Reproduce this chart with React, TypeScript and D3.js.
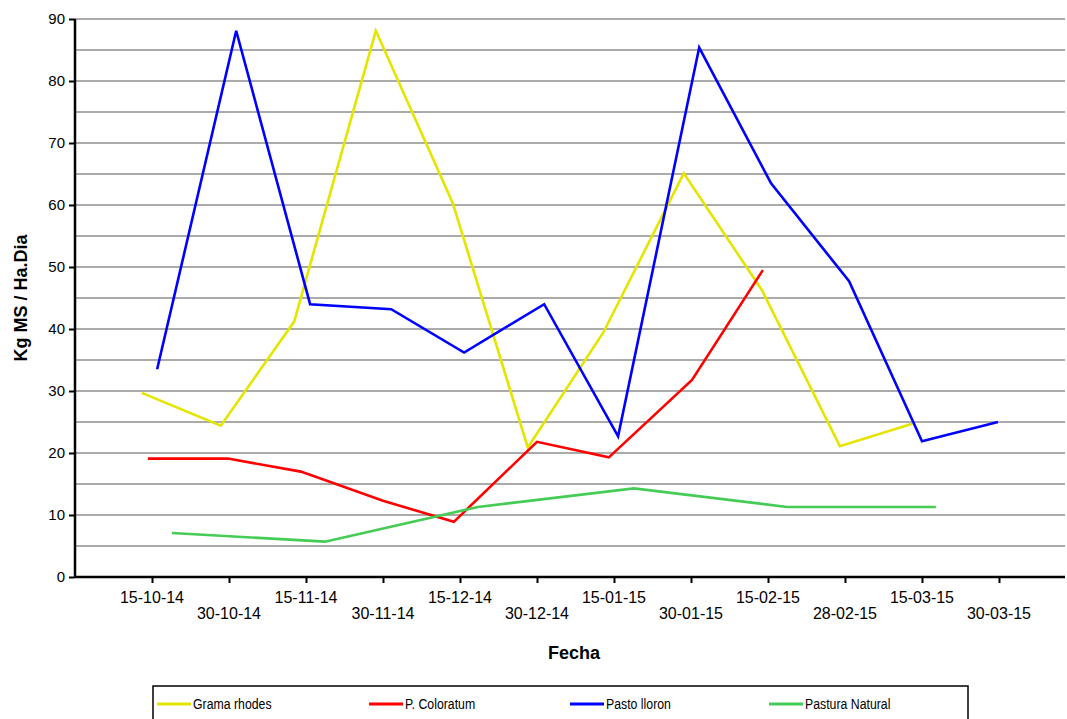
import React, { useRef, useEffect } from 'react';
import * as d3 from 'd3';

// x = days counted from 30-09-14 (axis origin), one tick every 15 days
const xTickLabels = [
  '15-10-14', '30-10-14', '15-11-14', '30-11-14', '15-12-14', '30-12-14',
  '15-01-15', '30-01-15', '15-02-15', '28-02-15', '15-03-15', '30-03-15',
];
const yTicks = [0, 10, 20, 30, 40, 50, 60, 70, 80, 90];

const gramaX = [13, 28.4, 42.7, 58.6, 73.6, 88.2, 102.9, 118.6, 133.8, 149, 163.1];
const gramaY = [29.7, 24.4, 41.2, 88.1, 60.3, 20.9, 39.4, 65.1, 46.3, 21.1, 24.7];

const coloratumX = [14.2, 29.8, 44, 60, 73.8, 90, 104, 120.2, 134];
const coloratumY = [19.1, 19.1, 17.0, 12.3, 8.9, 21.8, 19.3, 31.8, 49.5];

const lloronX = [16, 31.4, 45.8, 61.6, 75.8, 91.4, 105.8, 121.6, 135.6, 150.8, 165, 179.8];
const lloronY = [33.5, 88.1, 44.0, 43.2, 36.2, 44.0, 22.7, 85.4, 63.5, 47.7, 21.9, 25.0];

const naturalX = [18.9, 48.7, 78.5, 108.9, 138.7, 167.7];
const naturalY = [7.1, 5.7, 11.3, 14.3, 11.3, 11.3];

const seriesNames = ['Grama rhodes', 'P. Coloratum', 'Pasto lloron', 'Pastura Natural'];
const seriesColors = ['#e5e500', '#ff0000', '#0000ff', '#44cc55'];

export default function App() {
  const ref = useRef<SVGSVGElement>(null);

  useEffect(() => {
    const svg = d3.select(ref.current);
    svg.selectAll('*').remove();

    const width = 1067;
    const height = 719;
    svg.attr('width', width).attr('height', height);

    const x = d3.scaleLinear().domain([0, 192.86]).range([75, 1065]);
    const y = d3.scaleLinear().domain([0, 90]).range([577, 19]);
    const font = 'Liberation Sans, Arial, sans-serif';

    // grid lines every 5
    svg.append('g')
      .selectAll('line')
      .data(d3.range(5, 95, 5))
      .join('line')
        .attr('x1', x(0))
        .attr('x2', x.range()[1])
        .attr('y1', d => y(d))
        .attr('y2', d => y(d))
        .attr('stroke', '#8f8f8f')
        .attr('stroke-width', 1.5);

    // y axis
    const yAxis = svg.append('g').attr('transform', `translate(${x(0)},0)`)
      .call(d3.axisLeft(y).tickValues(yTicks).tickSize(6).tickPadding(4));
    yAxis.select('.domain').attr('stroke', '#000').attr('stroke-width', 2.5)
      .attr('d', `M0,${y(90)}V${y(0)}`);
    yAxis.selectAll('.tick line').attr('stroke', '#000').attr('stroke-width', 2);
    yAxis.selectAll('.tick text')
      .attr('font-family', font).attr('font-size', 15).attr('fill', '#000');

    // x axis
    const tickVals = xTickLabels.map((_, i) => 15 * (i + 1));
    const xAxis = svg.append('g').attr('transform', `translate(0,${y(0)})`)
      .call(d3.axisBottom(x).tickValues(tickVals).tickSize(6).tickFormat(() => ''));
    xAxis.select('.domain').attr('stroke', '#000').attr('stroke-width', 2.5)
      .attr('d', `M${x(0)},0H${x.range()[1]}`);
    xAxis.selectAll('.tick line').attr('stroke', '#000').attr('stroke-width', 2);

    svg.append('g')
      .selectAll('text')
      .data(xTickLabels)
      .join('text')
        .attr('x', (_, i) => x(tickVals[i]))
        .attr('y', (_, i) => (i % 2 === 0 ? 603 : 619))
        .attr('text-anchor', 'middle')
        .attr('font-family', font)
        .attr('font-size', 16)
        .text(d => d);

    // axis titles
    svg.append('text')
      .attr('x', 574).attr('y', 659)
      .attr('text-anchor', 'middle')
      .attr('font-family', font).attr('font-weight', 'bold').attr('font-size', 18)
      .text('Fecha');

    svg.append('text')
      .attr('transform', `translate(27,${(y(0) + y(90)) / 2}) rotate(-90)`)
      .attr('text-anchor', 'middle')
      .attr('font-family', font).attr('font-weight', 'bold').attr('font-size', 18)
      .text('Kg MS / Ha.Dia');

    // series
    const series = [
      gramaX.map((d, i) => [d, gramaY[i]]),
      coloratumX.map((d, i) => [d, coloratumY[i]]),
      lloronX.map((d, i) => [d, lloronY[i]]),
      naturalX.map((d, i) => [d, naturalY[i]]),
    ];
    const line = d3.line<number[]>().x(d => x(d[0])).y(d => y(d[1]));

    svg.append('g')
      .selectAll('path')
      .data(series)
      .join('path')
        .attr('d', d => line(d))
        .attr('fill', 'none')
        .attr('stroke', (_, i) => seriesColors[i])
        .attr('stroke-width', 2.6)
        .attr('stroke-linejoin', 'miter');

    // legend
    const legend = svg.append('g');
    legend.append('rect')
      .attr('x', 153).attr('y', 686)
      .attr('width', 815).attr('height', 40)
      .attr('fill', '#fff').attr('stroke', '#000').attr('stroke-width', 1.5);

    const legendX = [157, 369, 570, 769];
    const items = legend.selectAll('g.item')
      .data(seriesNames)
      .join('g')
        .attr('class', 'item')
        .attr('transform', (_, i) => `translate(${legendX[i]},704)`);
    items.append('line')
      .attr('x1', 0).attr('x2', 34)
      .attr('stroke', (_, i) => seriesColors[i])
      .attr('stroke-width', 3);
    // condensed look of the original legend font
    items.append('text')
      .attr('transform', 'translate(36,5) scale(0.82,1)')
      .attr('font-family', font)
      .attr('font-size', 15)
      .text(d => d);
  }, []);

  return <svg ref={ref} style={{ position: 'absolute', left: 0, top: 0 }} />;
}
